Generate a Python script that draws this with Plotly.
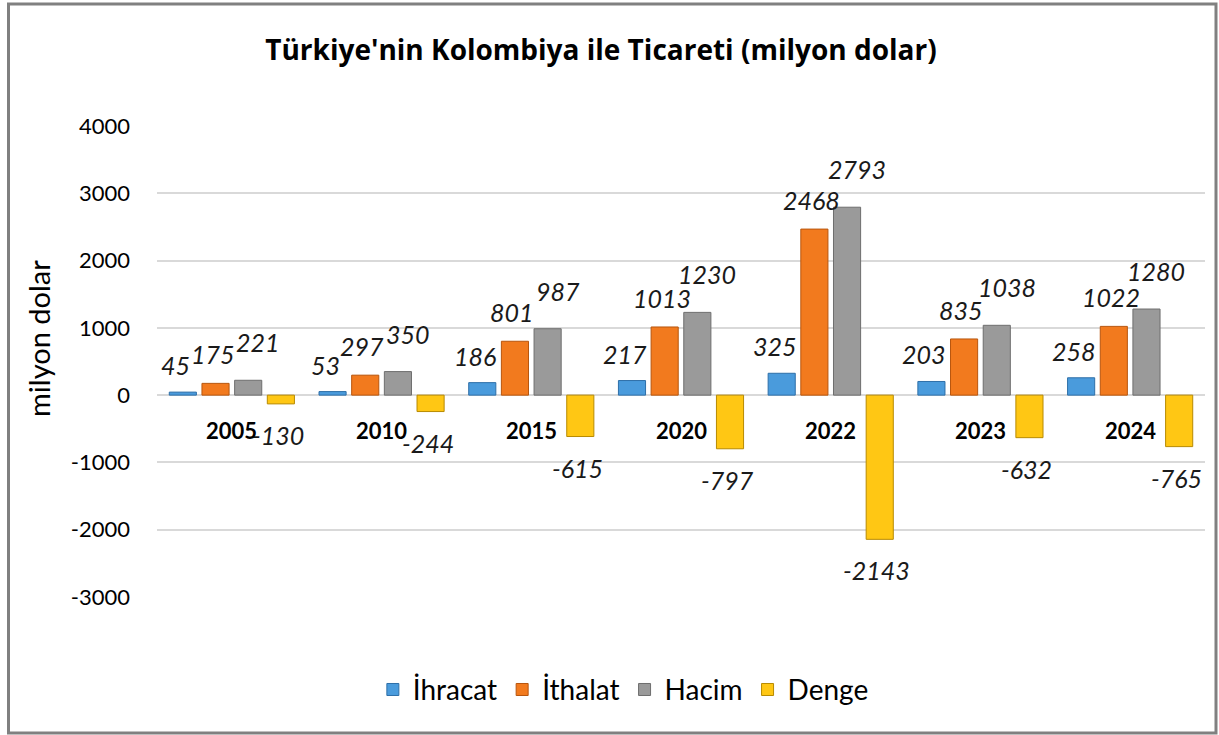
import plotly.graph_objects as go

years = ["2005", "2010", "2015", "2020", "2022", "2023", "2024"]
ihracat = [45, 53, 186, 217, 325, 203, 258]
ithalat = [175, 297, 801, 1013, 2468, 835, 1022]
hacim = [221, 350, 987, 1230, 2793, 1038, 1280]
denge = [-130, -244, -615, -797, -2143, -632, -765]

series_names = ["İhracat", "İthalat", "Hacim", "Denge"]
series_vals = [ihracat, ithalat, hacim, denge]
colors = ["#4A9BDC", "#F27A1E", "#9A9A9A", "#FFC714"]
edges = ["#2E6FA8", "#B8560E", "#6E6E6E", "#B88A00"]
# label offsets per series (pixels): horizontal nudge and distance from bar end
label_dx = [-7, -3, 10, -3]
label_dy = [27, 29, 38, 31]

FONT = "Lato"
W, H = 1219, 735
ML, MR, MT, MB = 157, 14, 126, 138
PW = W - ML - MR
PH = H - MT - MB
BARGAP = 0.127
GROUPGAP = 0.17

fig = go.Figure()
for name, vals, c, e in zip(series_names, series_vals, colors, edges):
    fig.add_trace(go.Bar(
        x=years, y=vals, name=name,
        marker=dict(color=c, line=dict(color=e, width=1)),
    ))

# data labels (category axis annotations use category index)
cat_w = PW / len(years)
slot = cat_w * (1 - BARGAP) / len(series_names)
for i, vals in enumerate(series_vals):
    xs = (i - (len(series_names) - 1) / 2) * slot + label_dx[i]
    for k, v in enumerate(vals):
        fig.add_annotation(
            x=k, y=v, text=str(v), showarrow=False,
            xshift=xs, yshift=label_dy[i] if v >= 0 else -label_dy[i],
            font=dict(family=FONT, size=25, color="#1a1a1a", style="italic"),
        )

# category labels next to zero line
for k, yr in enumerate(years):
    fig.add_annotation(
        x=k, y=0, text="<b>" + yr + "</b>", showarrow=False, yshift=-35, xshift=0,
        font=dict(family=FONT, size=22, color="#000000"),
    )

# y axis title
fig.add_annotation(
    xref="paper", yref="paper", x=(38 - ML) / PW, y=(H - MB - 339) / PH,
    text="milyon dolar", textangle=-90, showarrow=False,
    xanchor="center", yanchor="middle",
    font=dict(family=FONT, size=29, color="#000000"),
)

# outer border
fig.add_shape(
    type="rect", xref="paper", yref="paper",
    x0=(8.5 - ML) / PW, x1=(1216 - ML) / PW,
    y0=(H - MB - 733) / PH, y1=(H - MB - 4) / PH,
    line=dict(color="#808080", width=3), layer="below",
)

fig.update_layout(
    width=W, height=H,
    margin=dict(l=ML, r=MR, t=MT, b=MB),
    paper_bgcolor="white", plot_bgcolor="white",
    barmode="group", bargap=BARGAP, bargroupgap=GROUPGAP,
    title=dict(
        text="<b>Türkiye'nin Kolombiya ile Ticareti (milyon dolar)</b>",
        x=0.493, xanchor="center", y=0.932, yanchor="middle",
        font=dict(family="Open Sans", size=28, color="#000000"),
    ),
    font=dict(family=FONT, color="#000000"),
    xaxis=dict(type="category", range=[-0.5, len(years) - 0.5],
               showticklabels=False, showgrid=False, showline=False, zeroline=False),
    yaxis=dict(
        range=[-3000, 4000], tickvals=[-3000, -2000, -1000, 0, 1000, 2000, 3000, 4000],
        ticktext=["-3000", "-2000", "-1000", "0", "1000", "2000", "3000", "4000"],
        showgrid=True, gridcolor="#D9D9D9", gridwidth=1.5,
        zeroline=True, zerolinecolor="#D9D9D9", zerolinewidth=1.5,
        showline=False, ticks="", ticklabelstandoff=26,
        tickfont=dict(family=FONT, size=22, color="#000000"),
    ),
    legend=dict(
        orientation="h", x=0.445, xanchor="center", y=-0.197, yanchor="middle",
        font=dict(family=FONT, size=28, color="#000000"),
        itemwidth=30, traceorder="normal",
    ),
)

fig.write_html("out.html", config={"displayModeBar": False},
               post_script="document.body.style.margin='0';document.body.style.overflow='hidden';")
